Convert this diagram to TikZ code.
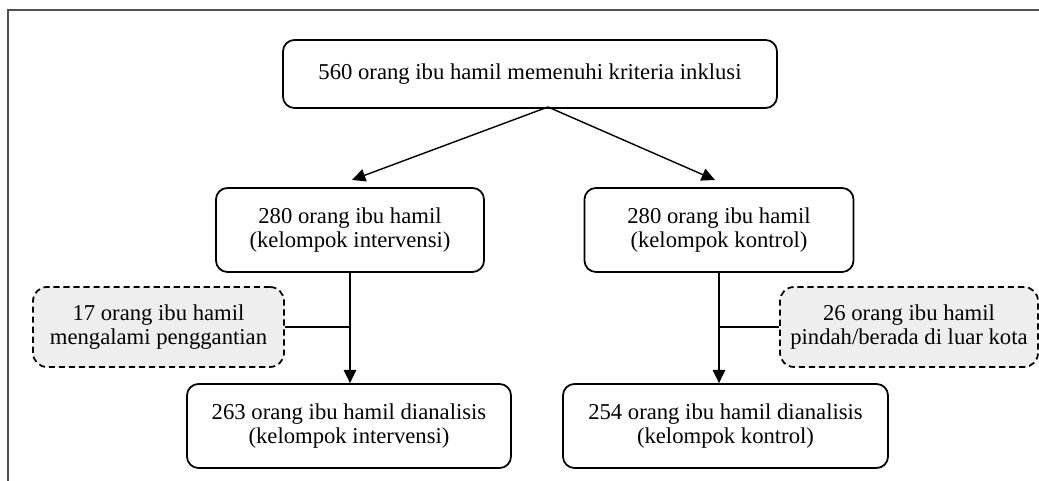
\documentclass[tikz,border=0pt]{standalone}
\usepackage{fontspec}
\setmainfont{Liberation Serif}
\usetikzlibrary{arrows.meta}
\definecolor{abu}{RGB}{238,238,238}
\definecolor{bingkai}{RGB}{80,80,80}

\begin{document}
\begin{tikzpicture}[>={Triangle[length=7.6pt,width=7.2pt]},
  kotak/.style={draw,line width=1pt,rounded corners=6.5pt,align=center,
    minimum height=1.68cm,inner sep=0pt,font=\fontsize{12.9pt}{13.8pt}\selectfont},
  keluar/.style={kotak,fill=abu,dash pattern=on 3.5pt off 2.2pt,rounded corners=8pt,
    minimum height=1.6cm}]
\useasboundingbox (0,0) rectangle (20.78,9.62);
\draw[line width=.8pt,bingkai] (0.16,0)--(0.16,9.42)--(20.78,9.42);

\node[kotak,minimum width=9.88cm,minimum height=1.36cm] (awal) at (10.6,8.14){560 orang ibu hamil memenuhi kriteria inklusi};

\node[kotak,minimum width=5.36cm] (interv) at (7.0,5.02){280 orang ibu hamil\\(kelompok intervensi)};
\node[kotak,minimum width=5.38cm] (kontrol) at (14.38,5.02){280 orang ibu hamil\\(kelompok kontrol)};

\node[keluar,minimum width=5.02cm] (ganti) at (3.17,3.08){17 orang ibu hamil\\mengalami penggantian};
\node[keluar,minimum width=5.16cm] (pindah) at (18.18,3.08){26 orang ibu hamil\\pindah/berada di luar kota};

\node[kotak,minimum width=6.48cm] (analisis1) at (6.98,1.10){263 orang ibu hamil dianalisis\\(kelompok intervensi)};
\node[kotak,minimum width=6.5cm] (analisis2) at (14.51,1.10){254 orang ibu hamil dianalisis\\(kelompok kontrol)};

% percabangan dari kotak atas
\coordinate (pecah) at (10.96,7.48);
\coordinate (ujungkiri) at (7.04,6.02);
\coordinate (ujungkanan) at (14.30,6.02);
\draw[->,line width=.8pt] (pecah)--(ujungkiri);
\draw[->,line width=.8pt] (pecah)--(ujungkanan);

\draw[->,line width=.7pt] (interv.south)--(interv.south|-analisis1.north);
\draw[->,line width=.7pt] (kontrol.south)--(kontrol.south|-analisis2.north);

\draw[line width=.6pt] (ganti.east)--(ganti.east-|interv.south);
\draw[line width=.6pt] (pindah.west)--(pindah.west-|kontrol.south);
\end{tikzpicture}
\end{document}
